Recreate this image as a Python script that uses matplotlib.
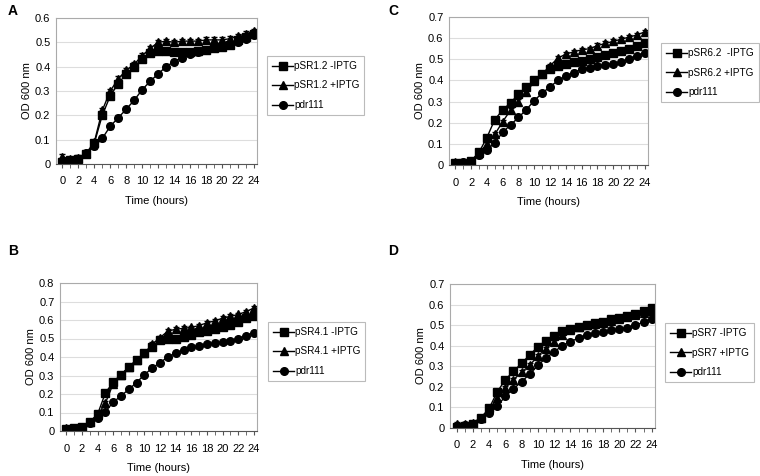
import matplotlib.pyplot as plt
import numpy as np

plt.rcParams['font.family'] = ['Liberation Sans', 'DejaVu Sans']

hours = list(range(25))
xticks = list(range(0, 25, 2))

pdr111 = [0.01, 0.015, 0.02, 0.045, 0.072, 0.105, 0.155, 0.19, 0.225, 0.262, 0.305, 0.34, 0.37,
          0.40, 0.42, 0.437, 0.452, 0.46, 0.468, 0.475, 0.48, 0.488, 0.50, 0.515, 0.532]

sr12_minus = [0.01, 0.015, 0.02, 0.042, 0.085, 0.2, 0.28, 0.33, 0.37, 0.40, 0.43, 0.455, 0.465,
              0.465, 0.46, 0.46, 0.462, 0.465, 0.47, 0.475, 0.48, 0.49, 0.51, 0.52, 0.535]
sr12_plus = [0.03, 0.02, 0.025, 0.045, 0.09, 0.22, 0.30, 0.35, 0.385, 0.41, 0.445, 0.475, 0.50,
             0.505, 0.50, 0.505, 0.505, 0.505, 0.51, 0.51, 0.51, 0.515, 0.525, 0.535, 0.545]

sr41_minus = [0.01, 0.015, 0.02, 0.05, 0.09, 0.205, 0.265, 0.305, 0.345, 0.385, 0.42, 0.455, 0.49,
              0.50, 0.50, 0.51, 0.52, 0.535, 0.54, 0.55, 0.56, 0.575, 0.59, 0.61, 0.62]
sr41_plus = [0.015, 0.01, 0.02, 0.05, 0.085, 0.15, 0.255, 0.305, 0.345, 0.385, 0.42, 0.47, 0.505,
             0.54, 0.55, 0.555, 0.56, 0.57, 0.585, 0.595, 0.61, 0.62, 0.63, 0.645, 0.665]

sr62_minus = [0.01, 0.01, 0.02, 0.06, 0.13, 0.215, 0.26, 0.295, 0.335, 0.37, 0.40, 0.43, 0.455,
              0.47, 0.48, 0.485, 0.49, 0.50, 0.51, 0.52, 0.53, 0.54, 0.55, 0.565, 0.575]
sr62_plus = [0.015, 0.01, 0.02, 0.055, 0.10, 0.145, 0.205, 0.26, 0.30, 0.345, 0.395, 0.43, 0.47,
             0.505, 0.525, 0.535, 0.545, 0.55, 0.565, 0.575, 0.585, 0.595, 0.605, 0.615, 0.63]

sr7_minus = [0.005, 0.01, 0.02, 0.05, 0.095, 0.175, 0.235, 0.275, 0.315, 0.355, 0.395, 0.425, 0.445,
             0.47, 0.48, 0.49, 0.50, 0.51, 0.515, 0.53, 0.535, 0.545, 0.555, 0.57, 0.585]
sr7_plus = [0.02, 0.02, 0.025, 0.05, 0.09, 0.145, 0.195, 0.235, 0.27, 0.305, 0.35, 0.385, 0.42,
            0.45, 0.475, 0.49, 0.50, 0.505, 0.51, 0.52, 0.53, 0.54, 0.55, 0.56, 0.57]

err = 0.01

# panel: letter, axes rect (pixels: left, top, right, bottom), ymax, names, series, legend corner px, letter px
panels = [
    ('A', (56, 18, 257, 164), 0.6, ('pSR1.2 -IPTG', 'pSR1.2 +IPTG'), (sr12_minus, sr12_plus), (267, 56), (8, 4)),
    ('C', (449, 17, 648, 165), 0.7, ('pSR6.2  -IPTG', 'pSR6.2 +IPTG'), (sr62_minus, sr62_plus), (661, 43), (388, 4)),
    ('B', (60, 283, 257, 431), 0.8, ('pSR4.1 -IPTG', 'pSR4.1 +IPTG'), (sr41_minus, sr41_plus), (268, 322), (8, 244)),
    ('D', (450, 284, 655, 428), 0.7, ('pSR7 -IPTG', 'pSR7 +IPTG'), (sr7_minus, sr7_plus), (665, 323), (388, 244)),
]

W, H = 760, 476
fig = plt.figure(figsize=(W / 100, H / 100), dpi=100)

for letter, (l, t, r, b), ymax, names, (minus, plus), (lx, ly), (px, py) in panels:
    ax = fig.add_axes([l / W, 1 - b / H, (r - l) / W, (b - t) / H])
    handles = []
    for y, m, lab in [(minus, 's', names[0]), (plus, '^', names[1]), (pdr111, 'o', 'pdr111')]:
        ax.errorbar(hours, y, yerr=err, color='black', fmt='none', elinewidth=0.8, capsize=2)
        h, = ax.plot(hours, y, color='black', marker=m, markersize=5.5, lw=1, label=lab)
        handles.append(h)
    ax.set_xlim(-0.8, 24.4)
    ax.set_ylim(0, ymax)
    ax.set_xticks(xticks)
    ax.set_xticks(hours, minor=True)
    ax.set_yticks(np.arange(0, ymax + 0.01, 0.1))
    ax.set_yticklabels(['0'] + ['%.1f' % v for v in np.arange(0.1, ymax + 0.01, 0.1)])
    ax.yaxis.grid(True, color='#dddddd', lw=0.8)
    ax.set_axisbelow(True)
    for s in ['top', 'right', 'left']:
        ax.spines[s].set_color('#aaaaaa')
    ax.spines['bottom'].set_color('#555555')
    ax.tick_params(labelsize=8, length=3, color='#555555')
    ax.tick_params(axis='x', pad=6)
    ax.tick_params(axis='y', length=0, pad=4)
    ax.tick_params(which='minor', length=3, color='#555555')
    ax.set_xlabel('Time (hours)', fontsize=8, labelpad=7)
    ax.set_ylabel('OD 600 nm', fontsize=8, labelpad=2)
    leg = fig.legend(handles, [h.get_label() for h in handles], loc='upper left',
                     bbox_to_anchor=(lx / W, 1 - ly / H), borderaxespad=0,
                     fontsize=7.2, frameon=True, fancybox=False, edgecolor='#aaaaaa',
                     handlelength=2.1, handletextpad=0.1, labelspacing=0.95, borderpad=0.5)
    leg.get_frame().set_linewidth(0.8)
    fig.text(px / W, 1 - py / H, letter, fontsize=10, fontweight='bold', va='top', ha='left')

plt.savefig('out.png', dpi=100)
